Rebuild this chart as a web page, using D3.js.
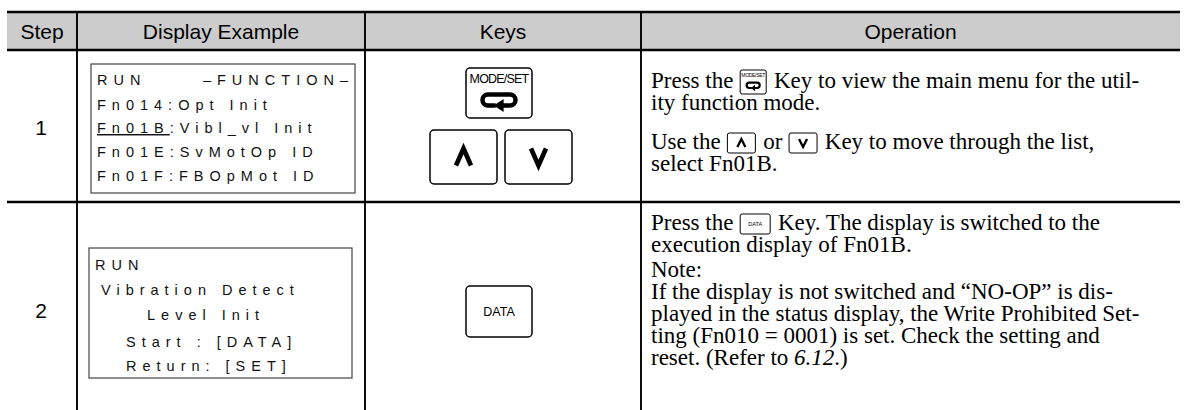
<!DOCTYPE html>
<html><head><meta charset="utf-8">
<script src="https://cdn.jsdelivr.net/npm/d3@7"></script>
<style>body{margin:0;background:#fff}text{white-space:pre}</style>
</head><body><svg id="c" width="1184" height="410"></svg>
<script>
// ---------- data ----------
const headers = ["Step", "Display Example", "Keys", "Operation"];
const steps = ["1", "2"];
const display1 = ["RUN", "Fn014:Opt Init", "Fn01B:Vibl_vl Init", "Fn01E:SvMotOp ID", "Fn01F:FBOpMot ID"];
const display1Right = "–FUNCTION–";
const display2 = ["RUN", "Vibration Detect", "Level Init", "Start : [DATA]", "Return: [SET]"];
const keys1 = ["MODESET", "UP", "DOWN"];
const keys2 = ["DATA"];
const op1 = [
  "Press the {MODESET} Key to view the main menu for the util-",
  "ity function mode.",
  "Use the {UP} or {DOWN} Key to move through the list,",
  "select Fn01B."
];
const op2 = [
  "Press the {DATA} Key. The display is switched to the",
  "execution display of Fn01B.",
  "Note:",
  "If the display is not switched and “NO-OP” is dis-",
  "played in the status display, the Write Prohibited Set-",
  "ting (Fn010 = 0001) is set. Check the setting and",
  "reset. (Refer to {i:6.12}.)"
];

// ---------- layout ----------
const W = 1184, H = 410;
const colEdges = [7, 77, 365, 641, 1180];
const rowEdges = [12, 50, 202, 410];
const SANS = "'Liberation Sans', Arial, Helvetica, sans-serif";
const SERIF = "'Liberation Serif', 'Times New Roman', serif";

const svg = d3.select("#c");
const colScale = d3.scaleOrdinal().domain(headers).range(headers.map((h, i) => (colEdges[i] + colEdges[i + 1]) / 2));
const colCenter = i => colScale(headers[i]);

// header background
svg.append("rect").attr("x", colEdges[0]).attr("y", rowEdges[0])
  .attr("width", colEdges[4] - colEdges[0]).attr("height", rowEdges[1] - rowEdges[0])
  .attr("fill", "#cccccc");

// header text
svg.selectAll("text.hdr").data(headers).join("text").attr("class", "hdr")
  .attr("x", d => colScale(d)).attr("y", 38.5)
  .attr("text-anchor", "middle").attr("font-family", SANS).attr("font-size", 21)
  .attr("fill", "#000").text(d => d);

// horizontal lines
svg.selectAll("line.h").data(rowEdges.slice(0, 3)).join("line").attr("class", "h")
  .attr("x1", colEdges[0]).attr("x2", colEdges[4]).attr("y1", d => d).attr("y2", d => d)
  .attr("stroke", "#000").attr("stroke-width", 2.4);
// vertical lines
svg.selectAll("line.v").data(colEdges.slice(1, 4)).join("line").attr("class", "v")
  .attr("x1", d => d).attr("x2", d => d).attr("y1", rowEdges[0]).attr("y2", H)
  .attr("stroke", "#000").attr("stroke-width", 1.9);

// step numbers
const stepY = [135, 318];
svg.selectAll("text.step").data(steps).join("text").attr("class", "step")
  .attr("x", colCenter(0) - 1).attr("y", (d, i) => stepY[i])
  .attr("text-anchor", "middle").attr("font-family", SANS).attr("font-size", 21)
  .text(d => d);

// ---------- display boxes ----------
const LS = 6.0, DFS = 14.5;
function displayBox(box, lines, baselines, indents) {
  svg.append("rect").attr("x", box[0]).attr("y", box[1]).attr("width", box[2]).attr("height", box[3])
    .attr("fill", "#fff").attr("stroke", "#444").attr("stroke-width", 1.2);
  lines.forEach((s, i) => {
    const t = svg.append("text").attr("x", box[0] + 6 + indents[i]).attr("y", baselines[i])
      .attr("font-family", SANS).attr("font-size", DFS).attr("letter-spacing", LS).attr("fill", "#111");
    if (s.startsWith("Fn01B")) {
      t.append("tspan").attr("text-decoration", "underline").text("Fn01B");
      t.append("tspan").text(s.slice(5));
    } else t.text(s);
  });
}
displayBox([91, 64, 264, 129], display1, [85, 110, 133, 157, 181], [0, 0, 0, 0, 0]);
svg.append("text").attr("x", 355 - 7 + LS).attr("y", 85).attr("text-anchor", "end")
  .attr("font-family", SANS).attr("font-size", DFS).attr("letter-spacing", LS).attr("fill", "#111")
  .text(display1Right);
displayBox([89, 248, 263, 130], display2, [270, 295, 320, 347, 371], [0, 6, 52, 31, 31]);

// ---------- key icons ----------
function returnArrow(g, cx, cy, w, h, sw) {
  const r = h / 2, l = cx - w / 2, rr = cx + w / 2, t = cy - h / 2, b = cy + h / 2;
  g.append("path")
    .attr("d", `M${cx - w * 0.1},${b} L${l + r},${b} A${r},${r} 0 0 1 ${l + r},${t} L${rr - r},${t} A${r},${r} 0 0 1 ${rr - r},${b} L${cx + w * 0.1},${b}`)
    .attr("fill", "none").attr("stroke", "#000").attr("stroke-width", sw);
  const ah = h * 0.6;
  g.append("path")
    .attr("d", `M${cx - w * 0.16},${b} L${cx + w * 0.14},${b - ah} L${cx + w * 0.14},${b + ah} Z`)
    .attr("fill", "#000");
}
function chevron(g, cx, cy, w, h, sw, up) {
  const s = up ? 1 : -1;
  g.append("path")
    .attr("d", `M${cx - w / 2},${cy + s * h / 2} L${cx},${cy - s * h / 2} L${cx + w / 2},${cy + s * h / 2}`)
    .attr("fill", "none").attr("stroke", "#000").attr("stroke-width", sw)
    .attr("stroke-linejoin", "miter").attr("stroke-miterlimit", 10);
}
function key(g, type, x0, y0, w, h, big) {
  g.append("rect").attr("x", x0).attr("y", y0).attr("width", w).attr("height", h)
    .attr("rx", big ? 4 : 2).attr("fill", "#fff").attr("stroke", "#000").attr("stroke-width", big ? 1.5 : 1);
  const cx = x0 + w / 2;
  if (type === "MODESET") {
    g.append("text").attr("x", cx).attr("y", y0 + h * 0.3).attr("text-anchor", "middle")
      .attr("font-family", SANS).attr("font-size", big ? 12.5 : 5).attr("letter-spacing", big ? -0.8 : -0.3)
      .text("MODE/SET");
    returnArrow(g, cx, y0 + h * 0.64, w * 0.5, h * 0.22, big ? 4.5 : 2.2);
  } else if (type === "UP" || type === "DOWN") {
    chevron(g, cx, y0 + h / 2, big ? 15 : 8, big ? 17 : 8, big ? 4.6 : 2.3, type === "UP");
  } else if (type === "DATA") {
    g.append("text").attr("x", cx).attr("y", y0 + h / 2 + (big ? 4.5 : 2)).attr("text-anchor", "middle")
      .attr("font-family", SANS).attr("font-size", big ? 12.5 : 5.5).text("DATA");
  }
}
const kg = svg.append("g");
key(kg, keys1[0], 466, 68, 66, 50, true);
key(kg, keys1[1], 430, 130, 67, 54, true);
key(kg, keys1[2], 505, 130, 67, 54, true);
key(kg, keys2[0], 466, 286, 66, 51, true);

// ---------- operation text ----------
const OFS = 23;
const iconDims = { MODESET: [26, 24, 18], UP: [28, 20, 16], DOWN: [28, 20, 16], DATA: [30, 20, 16] };
function opLines(lines, baselines) {
  lines.forEach((line, i) => {
    const y = baselines[i];
    let cx = 651;
    const parts = line.split(/(\{[^}]+\})/).filter(p => p.length);
    parts.forEach(p => {
      if (p.startsWith("{")) {
        const tok = p.slice(1, -1);
        if (tok.startsWith("i:")) {
          const t = svg.append("text").attr("x", cx).attr("y", y).attr("font-family", SERIF)
            .attr("font-size", OFS).attr("font-style", "italic").text(tok.slice(2));
          cx += t.node().getComputedTextLength();
        } else {
          const dims = iconDims[tok];
          key(svg, tok, cx + 1, y - dims[2], dims[0], dims[1], false);
          cx += dims[0] + 3;
        }
      } else {
        const t = svg.append("text").attr("x", cx).attr("y", y).attr("font-family", SERIF)
          .attr("font-size", OFS).text(p);
        cx += t.node().getComputedTextLength();
      }
    });
  });
}
opLines(op1, [88, 110, 149, 171]);
opLines(op2, [230, 252, 277, 299, 321, 343, 365]);
</script></body></html>
